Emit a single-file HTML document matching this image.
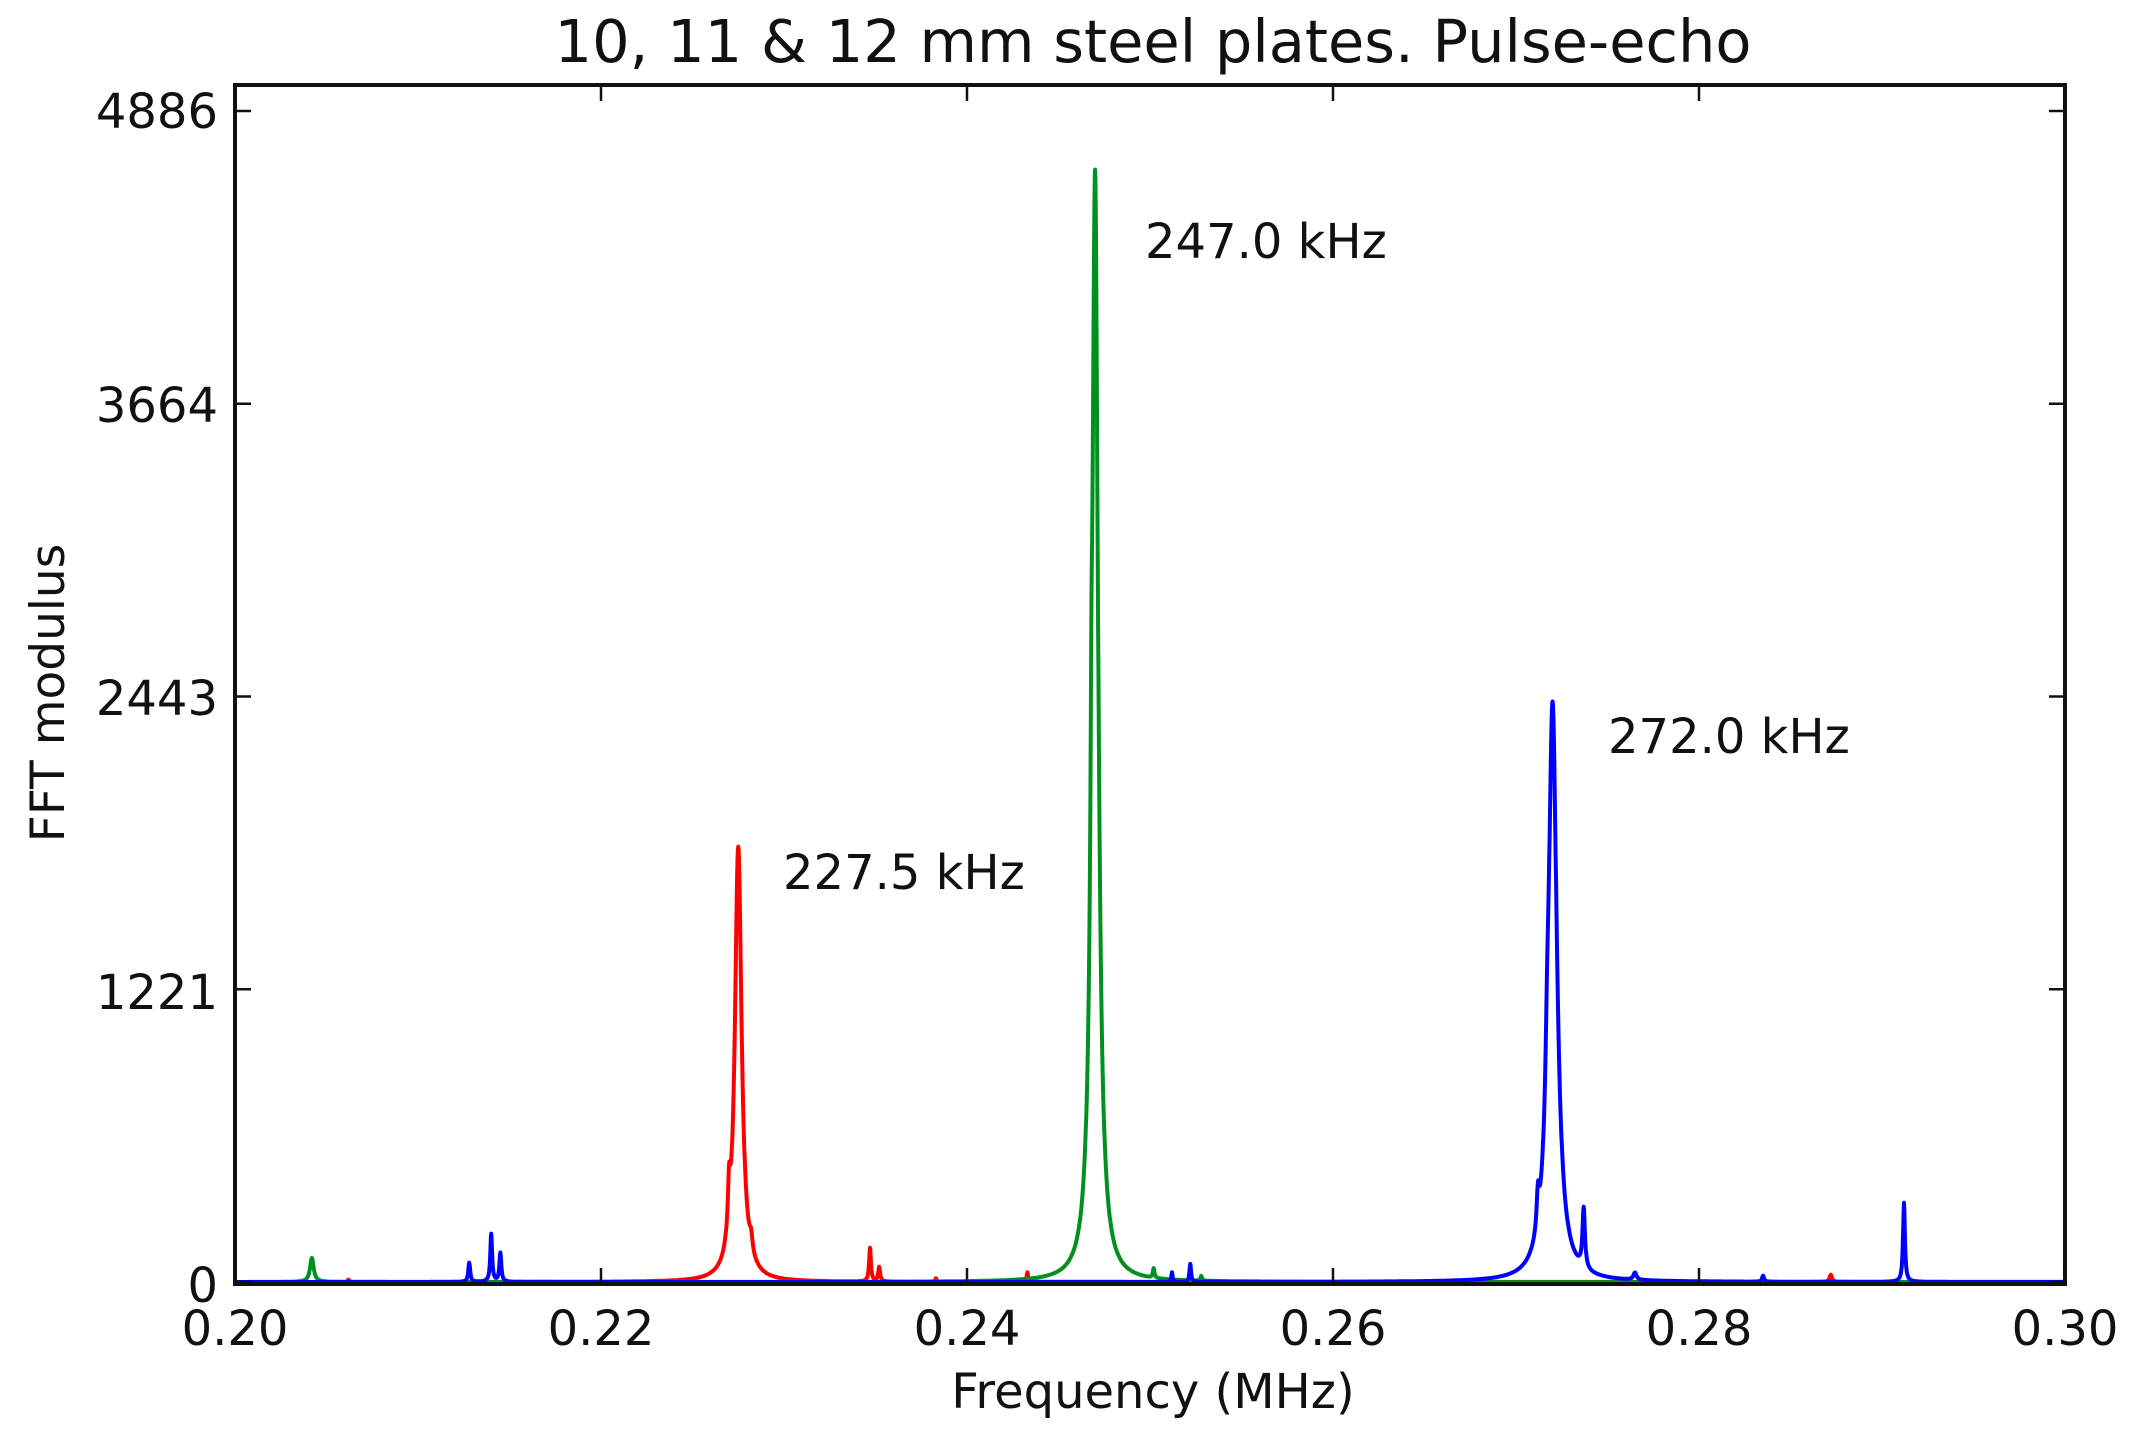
<!DOCTYPE html>
<html><head><meta charset="utf-8"><style>
html,body{margin:0;padding:0;background:#fff;}
svg{display:block;}
text{font-family:"DejaVu Sans","Liberation Sans",sans-serif;fill:#111;}
</style></head><body>
<svg id="s" width="2142" height="1437" viewBox="0 0 2142 1437" xmlns="http://www.w3.org/2000/svg">
<rect width="2142" height="1437" fill="#fff"/>
<text x="1153" y="62" font-size="59" text-anchor="middle">10, 11 &amp; 12 mm steel plates. Pulse-echo</text>
<g id="curves" fill="none" stroke-width="4" stroke-linejoin="round"></g>
<rect x="235" y="85" width="1830" height="1199" fill="none" stroke="#111" stroke-width="4"/>
<g stroke="#111" stroke-width="2.5" id="ticks"></g>
<g font-size="48" text-anchor="end">
<text x="218" y="128">4886</text>
<text x="218" y="422">3664</text>
<text x="218" y="715">2443</text>
<text x="218" y="1009">1221</text>
<text x="218" y="1302">0</text>
</g>
<g font-size="48" text-anchor="middle">
<text x="235" y="1345">0.20</text>
<text x="601" y="1345">0.22</text>
<text x="967" y="1345">0.24</text>
<text x="1333" y="1345">0.26</text>
<text x="1699" y="1345">0.28</text>
<text x="2065" y="1345">0.30</text>
</g>
<text x="1153" y="1408" font-size="48" text-anchor="middle">Frequency (MHz)</text>
<text transform="translate(64,693) rotate(-90)" font-size="47" text-anchor="middle">FFT modulus</text>
<g font-size="48">
<text x="783" y="889">227.5 kHz</text>
<text x="1145" y="258">247.0 kHz</text>
<text x="1608" y="753">272.0 kHz</text>
</g>
</svg>
<script>
var X0=235,X1=2065,Y0=1282,YS=(1282-111)/4886;
function px(f){return X0+(f-0.2)/0.1*(X1-X0);}
function py(v){return Y0-v*YS;}
var series=[
 {c:"#ff0000",p:[[0.2275,1810,0.00022],[0.2270,200,0.00008],[0.2282,60,0.0001],[0.2347,140,0.00006],[0.2352,60,0.00006],[0.2433,40,0.00005],[0.2383,15,0.00005],[0.2872,30,0.00008],[0.2062,10,0.00005]]},
 {c:"#009020",p:[[0.2470,4600,0.0002],[0.2468,500,0.00006],[0.2042,100,0.00012],[0.2502,40,0.00005],[0.2528,20,0.00005]]},
 {c:"#0000ff",p:[[0.2720,2400,0.00028],[0.2712,150,0.00008],[0.2717,200,0.0001],[0.2737,250,0.00008],[0.2128,80,0.00006],[0.2140,200,0.00006],[0.2145,120,0.00006],[0.2765,30,0.0001],[0.2835,25,0.00006],[0.2912,330,0.00006],[0.2512,40,0.00004],[0.2522,75,0.00005]]}
];
var g=document.getElementById("curves"),ns="http://www.w3.org/2000/svg";
series.forEach(function(s){
 var d="";
 for(var i=0;i<=6000;i++){
  var f=0.2+0.1*i/6000,v=0;
  s.p.forEach(function(q){var dx=f-q[0];v+=q[1]*q[2]*q[2]/(dx*dx+q[2]*q[2]);});
  d+=(i?"L":"M")+px(f).toFixed(1)+" "+py(v).toFixed(1);
 }
 var e=document.createElementNS(ns,"path");e.setAttribute("d",d);e.setAttribute("stroke",s.c);g.appendChild(e);
});
var t=document.getElementById("ticks");
function ln(a,b,c,d){var e=document.createElementNS(ns,"line");e.setAttribute("x1",a);e.setAttribute("y1",b);e.setAttribute("x2",c);e.setAttribute("y2",d);t.appendChild(e);}
[0.2,0.22,0.24,0.26,0.28,0.3].forEach(function(f){var x=px(f);ln(x,1284,x,1268);ln(x,85,x,101);});
[0,1221.5,2443,3664.5,4886].forEach(function(v){var y=py(v);ln(235,y,251,y);ln(2065,y,2049,y);});
</script>
</body></html>
